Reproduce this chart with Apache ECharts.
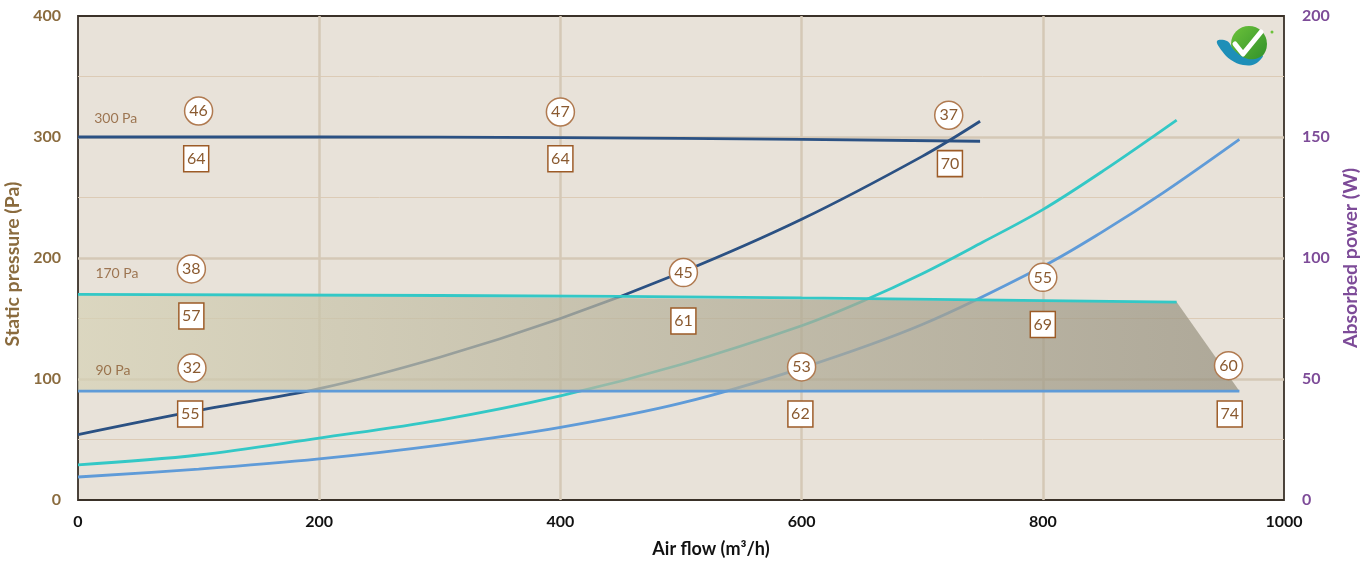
<!DOCTYPE html>
<html>
<head>
<meta charset="utf-8">
<script src="https://cdn.jsdelivr.net/npm/echarts@6/dist/echarts.min.js"></script>
<style>
html,body{margin:0;padding:0;background:#fff;}
#chart{width:1372px;height:566px;}
</style>
</head>
<body>
<div id="chart"></div>
<script>
// ---- Data ----
const xTicks = [0, 200, 400, 600, 800, 1000];
// Absorbed power curves (W) vs air flow (m3/h)
const power300 = [[0,27],[100,37],[200,46],[300,59],[400,75],[500,94],[600,116],[700,142],[748,156.5]];
const power170 = [[0,14.5],[100,18.6],[200,25.6],[300,33],[400,43],[500,56],[600,72],[650,82],[700,93.5],[750,106.5],[800,120],[850,136],[911,157]];
const power90  = [[0,9.5],[100,12.8],[200,17],[300,22.7],[400,30],[500,40],[600,54.5],[700,72.5],[800,96.5],[850,111],[900,127],[963,149]];
// Static pressure lines (Pa)
const press300 = [[0,300],[200,300],[400,299.5],[600,298],[748,296.5]];
const press170 = [[0,170],[300,169],[600,167],[911,163.6]];
const press90  = [[0,90],[963,90]];
// Working zone polygon (Pa)
const zonePolygon = [[0,170],[911,163.6],[963,90],[0,90]];
// Line name labels
const lineLabels = [[13,315.7,'300 Pa'],[14,187.6,'170 Pa'],[14,107.4,'90 Pa']];
// Circle annotations [flow, pressure, value]
const circleNotes = [[100,321.5,46],[400,320.7,47],[722,318,37],[94,191,38],[502,188,45],[800,184,55],[94.5,109,32],[600,110,53],[954,111,60]];
// Square annotations [flow, pressure, value]
const squareNotes = [[98,282,64],[400,282,64],[723,278,70],[94,152,57],[502,148,61],[800,145,69],[93,71,55],[599,71,62],[955,71,74]];

const FONT = 'Lato, "Noto Sans", sans-serif';
const C_DARK = '#2b5183', C_CYAN = '#33c8c6', C_LBLUE = '#5f9bd8';
const BROWN_TXT = '#8a5a30';

const chart = echarts.init(document.getElementById('chart'));
const option = {
  animation: false,
  backgroundColor: '#ffffff',
  textStyle: {fontFamily: FONT},
  grid: {left: 78, right: 88, top: 16, bottom: 66, show: true, containLabel: false, outerBoundsMode: 'none',
         backgroundColor: '#e8e2d9', borderColor: '#3a3128', borderWidth: 1.8},
  xAxis: {
    type: 'value', min: 0, max: 1000, interval: 200,
    name: 'Air flow (m³/h)', nameLocation: 'middle', nameGap: 40,
    nameTextStyle: {color: '#111', fontSize: 18, fontWeight: 'bold', fontFamily: FONT, padding: [0, 0, 0, 60]},
    axisLine: {show: false}, axisTick: {show: false},
    axisLabel: {color: '#111', fontSize: 16, fontWeight: 'bold', margin: 14, fontFamily: FONT,
                formatter: v => String(v)},
    splitLine: {show: true, showMinLine: false, showMaxLine: false, lineStyle: {color: '#d5c8b6', width: 2.5}}
  },
  yAxis: [{
    type: 'value', min: 0, max: 400, interval: 100, position: 'left',
    name: 'Static pressure (Pa)', nameLocation: 'middle', nameGap: 52, nameRotate: 90,
    nameTextStyle: {color: '#8a6b3e', fontSize: 19.5, fontWeight: 'bold', fontFamily: FONT, padding: [0, 12, 0, 0]},
    axisLine: {show: false}, axisTick: {show: false},
    axisLabel: {color: '#8a6b3e', fontSize: 16, fontWeight: 'bold', margin: 17, fontFamily: FONT},
    splitLine: {show: true, showMinLine: false, showMaxLine: false, lineStyle: {color: '#d5c8b6', width: 2.5}},
    minorTick: {show: false, splitNumber: 2},
    minorSplitLine: {show: true, lineStyle: {color: '#dccbb6', width: 1}}
  }, {
    type: 'value', min: 0, max: 200, interval: 50, position: 'right',
    name: 'Absorbed power (W)', nameLocation: 'middle', nameGap: 50, nameRotate: 90,
    nameTextStyle: {color: '#7d4b98', fontSize: 19.5, fontWeight: 'bold', fontFamily: FONT},
    axisLine: {show: false}, axisTick: {show: false},
    axisLabel: {color: '#7d4b98', fontSize: 16, fontWeight: 'bold', margin: 18, fontFamily: FONT},
    splitLine: {show: false}
  }],
  series: [
    {type: 'line', yAxisIndex: 1, data: power300, smooth: 0.35, symbol: 'none', z: 2,
     lineStyle: {color: C_DARK, width: 2.8}},
    {type: 'line', yAxisIndex: 1, data: power170, smooth: 0.35, symbol: 'none', z: 2,
     lineStyle: {color: C_CYAN, width: 2.8}},
    {type: 'line', yAxisIndex: 1, data: power90, smooth: 0.35, symbol: 'none', z: 2,
     lineStyle: {color: C_LBLUE, width: 2.8}},
    {type: 'custom', yAxisIndex: 0, z: 3, data: [0],
     renderItem: function (params, api) {
       const pts = zonePolygon.map(p => api.coord(p));
       return {type: 'polygon', shape: {points: pts},
         style: {fill: {type: 'linear', x: 0, y: 0, x2: 1, y2: 0, colorStops: [
           {offset: 0, color: 'rgba(214,210,182,0.72)'},
           {offset: 1, color: 'rgba(152,146,128,0.72)'}]}, stroke: null}};
     }},
    {type: 'line', data: press300, smooth: true, symbol: 'none', z: 4,
     lineStyle: {color: C_DARK, width: 2.8}},
    {type: 'line', data: press170, smooth: true, symbol: 'none', z: 4,
     lineStyle: {color: C_CYAN, width: 2.8}},
    {type: 'line', data: press90, symbol: 'none', z: 4,
     lineStyle: {color: C_LBLUE, width: 2.8}},
    {type: 'scatter', data: lineLabels, symbolSize: 1, z: 5,
     itemStyle: {color: 'rgba(0,0,0,0)'},
     label: {show: true, position: 'right', distance: 0, color: BROWN_TXT, fontSize: 14, fontFamily: FONT,
       formatter: p => p.data[2]}},
    {type: 'scatter', data: circleNotes, symbol: 'circle', symbolSize: 28, z: 6,
     itemStyle: {color: '#ffffff', opacity: 1, borderColor: '#b07a50', borderWidth: 1.5},
     label: {show: true, position: 'inside', color: BROWN_TXT, fontSize: 16, fontFamily: FONT,
       formatter: p => String(p.data[2])}},
    {type: 'scatter', data: squareNotes, symbol: 'rect', symbolSize: [25, 26], z: 6,
     itemStyle: {color: '#ffffff', opacity: 1, borderColor: '#9c5b27', borderWidth: 1.5},
     label: {show: true, position: 'inside', color: BROWN_TXT, fontSize: 16, fontFamily: FONT,
       formatter: p => String(p.data[2])}}
  ],
  graphic: [{
    type: 'group', x: 1217, y: 26, silent: true,
    children: [
      {type: 'circle', shape: {cx: 32, cy: 18, r: 18},
       style: {fill: {type: 'linear', x: 0, y: 0, x2: 1, y2: 1, colorStops: [
         {offset: 0, color: '#6cc23a'}, {offset: 1, color: '#2f8f2a'}]}}},
      {type: 'polygon', shape: {smooth: 0.4, points: [[0,15],[10,15],[17,24],[28,32],[38,33],[46,30],[38,38],[26,39],[14,34],[5,25]]},
       style: {fill: '#1e8fb8'}},
      {type: 'polyline', shape: {points: [[18,18],[26,28],[44,6]]},
       style: {stroke: '#ffffff', lineWidth: 5, fill: null, lineCap: 'round', lineJoin: 'round'}},
      {type: 'circle', shape: {cx: 55, cy: 6, r: 1.5}, style: {fill: '#6cc23a'}}
    ]
  }]
};
chart.setOption(option);
</script>
</body>
</html>
